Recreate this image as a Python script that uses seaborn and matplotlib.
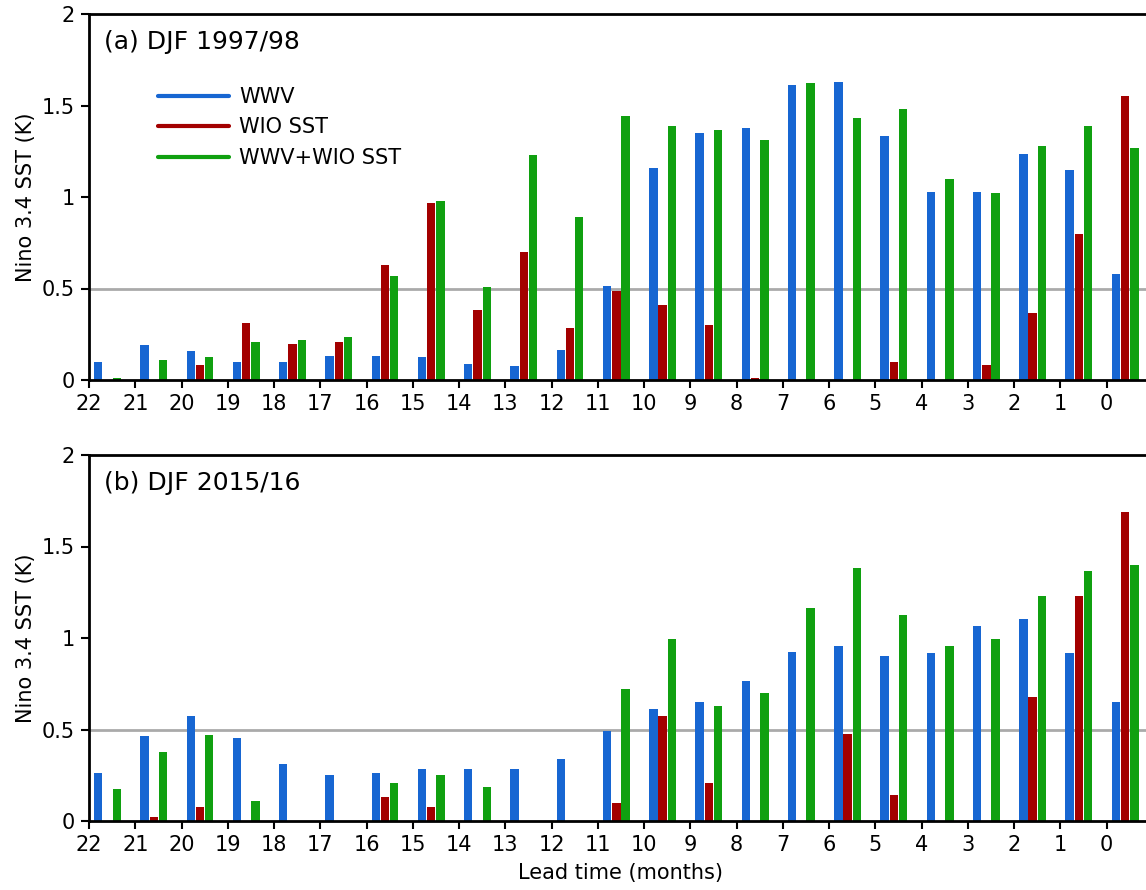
import numpy as np
import pandas as pd
import matplotlib
matplotlib.use("Agg")
import matplotlib.pyplot as plt
from matplotlib.lines import Line2D
import seaborn as sns

leads = [str(v) for v in range(22, -1, -1)]
series_names = ["WWV", "WIO SST", "WWV+WIO SST"]
colors = ["#1766d2", "#a30000", "#10a010"]

# Panel (a) DJF 1997/98
a_wwv = [0.10, 0.19, 0.16, 0.10, 0.10, 0.13, 0.13, 0.124, 0.09, 0.075, 0.164, 0.515,
         1.157, 1.35, 1.375, 1.61, 1.63, 1.335, 1.03, 1.03, 1.237, 1.15, 0.58]
a_wio = [0.0, 0.0, 0.084, 0.31, 0.197, 0.21, 0.63, 0.965, 0.38, 0.70, 0.284, 0.485,
         0.41, 0.30, 0.011, 0.0, 0.0, 0.10, 0.0, 0.082, 0.364, 0.796, 1.55]
a_both = [0.013, 0.11, 0.124, 0.21, 0.22, 0.235, 0.57, 0.98, 0.51, 1.23, 0.89, 1.44,
          1.39, 1.366, 1.31, 1.625, 1.43, 1.48, 1.10, 1.02, 1.28, 1.39, 1.27]

# Panel (b) DJF 2015/16
b_wwv = [0.262, 0.462, 0.575, 0.453, 0.309, 0.253, 0.262, 0.286, 0.286, 0.286, 0.34, 0.493,
         0.61, 0.65, 0.766, 0.926, 0.957, 0.903, 0.919, 1.063, 1.103, 0.919, 0.653]
b_wio = [0.0, 0.02, 0.076, 0.0, 0.0, 0.0, 0.133, 0.076, 0.0, 0.0, 0.0, 0.10,
         0.573, 0.206, 0.0, 0.0, 0.477, 0.14, 0.0, 0.0, 0.679, 1.232, 1.69]
b_both = [0.173, 0.375, 0.47, 0.109, 0.0, 0.0, 0.206, 0.253, 0.187, 0.0, 0.0, 0.719,
          0.997, 0.63, 0.70, 1.166, 1.383, 1.128, 0.957, 0.997, 1.232, 1.367, 1.40]

panel_titles = ["(a) DJF 1997/98", "(b) DJF 2015/16"]
yticks = [0, 0.5, 1, 1.5, 2]
ytick_labels = ["0", "0.5", "1", "1.5", "2"]


def make_df(wwv, wio, both):
    rows = []
    for name, vals in zip(series_names, [wwv, wio, both]):
        for lead, v in zip(leads, vals):
            rows.append({"lead": lead, "series": name, "value": v})
    return pd.DataFrame(rows)


sns.set_theme(style="white")
plt.rcParams["font.family"] = ["DejaVu Sans"]
plt.rcParams["text.color"] = "black"
plt.rcParams["axes.labelcolor"] = "black"
plt.rcParams["xtick.color"] = "black"
plt.rcParams["ytick.color"] = "black"

W, H = 1146, 890
fig = plt.figure(figsize=(W / 100, H / 100), dpi=100)

left_px, right_px = 89, 1152
panels = [(14, 380), (455, 821)]
palette = dict(zip(series_names, colors))

for k, (data, (top_px, bot_px)) in enumerate(zip(
        [(a_wwv, a_wio, a_both), (b_wwv, b_wio, b_both)], panels)):
    ax = fig.add_axes([left_px / W, (H - bot_px) / H,
                       (right_px - left_px) / W, (bot_px - top_px) / H])
    df = make_df(*data)
    sns.barplot(data=df, x="lead", y="value", hue="series", order=leads,
                hue_order=series_names, palette=palette, width=0.6, gap=0.1,
                legend=False, ax=ax, linewidth=0, saturation=1)
    ax.axhline(0.5, color="#aaaaaa", lw=2, zorder=0.5)
    ax.set_ylim(0, 2)
    ax.set_xlim(-0.4, 22.58)
    ax.set_xticks(np.arange(len(leads)) - 0.4)
    ax.set_xticklabels(leads)
    ax.set_yticks(yticks)
    ax.set_yticklabels(ytick_labels)
    ax.tick_params(axis="both", direction="out", length=6, width=1.5,
                   colors="black", labelsize=15, pad=4, bottom=True, left=True)
    ax.set_xlabel("")
    ax.set_ylabel("Nino 3.4 SST (K)", fontsize=15, labelpad=4, color="black")
    for side in ["left", "top", "bottom"]:
        ax.spines[side].set_visible(True)
        ax.spines[side].set_color("black")
        ax.spines[side].set_linewidth(2)
    ax.spines["right"].set_visible(False)
    ax.text(104 / W, 1 - (top_px + 28) / H, panel_titles[k], transform=fig.transFigure,
            fontsize=18, va="center", ha="left", color="black")
    if k == 0:
        handles = [Line2D([0], [0], color=c, lw=3) for c in colors]
        leg = ax.legend(handles, series_names, loc="upper left",
                        bbox_to_anchor=(158 / W, 1 - 87 / H), bbox_transform=fig.transFigure,
                        frameon=False, fontsize=15, handlelength=3.4, handletextpad=0.5,
                        labelspacing=0.5, borderpad=0, borderaxespad=0)
        for t in leg.get_texts():
            t.set_color("black")
    if k == 1:
        ax.set_xlabel("Lead time (months)", fontsize=15, labelpad=6, color="black")

fig.savefig("out.png", dpi=100)
